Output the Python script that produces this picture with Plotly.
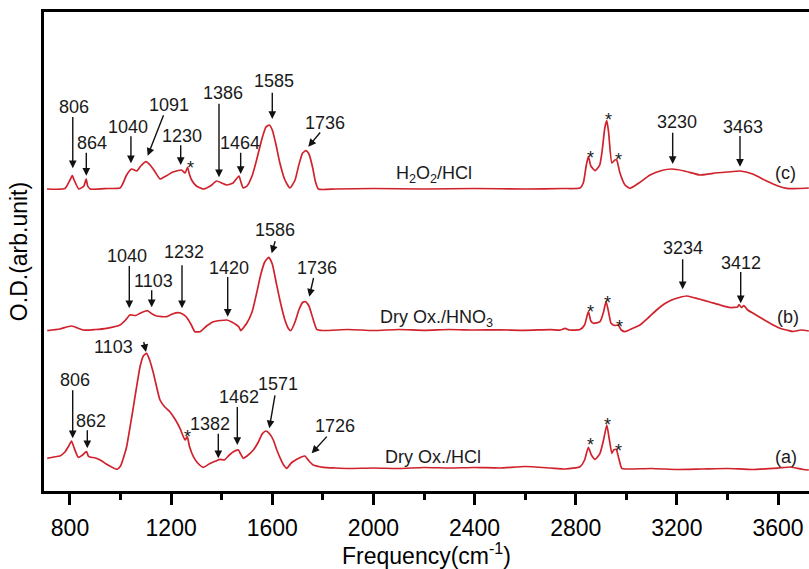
import plotly.graph_objects as go

# ---------------- data (wavenumber cm^-1, O.D. arb. units) ----------------
wn_c = [709, 780, 800, 809, 818, 835, 855, 864, 870, 880, 950, 998, 1010, 1024, 1044, 1064, 1080, 1100, 1120, 1136,
        1156, 1180, 1207, 1241, 1255, 1265, 1272, 1281, 1300, 1327, 1355, 1380, 1400, 1420, 1445, 1468, 1476, 1485, 1500, 1520,
        1538, 1560, 1575, 1588, 1600, 1615, 1630, 1650, 1670, 1690, 1705, 1720, 1733, 1745, 1760, 1770, 1782, 1850, 2000, 2200,
        2400, 2600, 2750, 2817, 2830, 2842, 2850, 2860, 2877, 2895, 2905, 2915, 2923, 2930, 2943, 2955, 2962, 2975, 2995, 3015,
        3050, 3094, 3140, 3180, 3230, 3291, 3343, 3400, 3450, 3500, 3555, 3600, 3634, 3680, 3722]
od_c = [3.02, 3.025, 3.11, 3.153, 3.10, 3.02, 3.05, 3.12, 3.05, 3.02,
        3.025, 3.03, 3.08, 3.16, 3.22, 3.20, 3.25, 3.293, 3.25, 3.193,
        3.12, 3.15, 3.19, 3.21, 3.18, 3.237, 3.17, 3.11, 3.05, 3.02,
        3.05, 3.10, 3.08, 3.06, 3.08, 3.15, 3.09, 3.03, 3.05, 3.15,
        3.31, 3.53, 3.64, 3.66, 3.61, 3.46, 3.28, 3.11, 3.03, 3.11,
        3.26, 3.38, 3.403, 3.37, 3.23, 3.10, 3.02, 3.02, 3.025, 3.02,
        3.025, 3.02, 3.025, 3.03, 3.08, 3.26, 3.343, 3.25, 3.203, 3.26,
        3.41, 3.63, 3.703, 3.59, 3.28, 3.31, 3.31, 3.18, 3.06, 3.027,
        3.08, 3.16, 3.205, 3.22, 3.20, 3.16, 3.177, 3.19, 3.20, 3.17,
        3.10, 3.05, 3.027, 3.025, 3.03]

wn_b = [710, 760, 806, 853, 900, 945, 998, 1020, 1037, 1060, 1077, 1106, 1125, 1143, 1182, 1205, 1228, 1245, 1261, 1280,
        1294, 1314, 1340, 1367, 1395, 1420, 1440, 1459, 1468, 1476, 1485, 1499, 1520, 1538, 1555, 1570, 1586, 1600, 1615, 1630,
        1650, 1665, 1673, 1690, 1705, 1720, 1732, 1745, 1760, 1776, 1800, 1900, 2000, 2100, 2200, 2300, 2400, 2500, 2600, 2700,
        2740, 2758, 2775, 2817, 2835, 2850, 2860, 2870, 2896, 2910, 2920, 2930, 2940, 2955, 2968, 2980, 2995, 3020, 3054, 3090,
        3120, 3150, 3173, 3210, 3239, 3265, 3291, 3330, 3371, 3410, 3440, 3446, 3455, 3465, 3480, 3502, 3540, 3581, 3610, 3634,
        3660, 3690, 3722]
od_b = [1.603, 1.62, 1.65, 1.61, 1.615, 1.627, 1.66, 1.71, 1.76, 1.755, 1.777, 1.803, 1.77, 1.75, 1.743, 1.77, 1.783, 1.77, 1.737, 1.66,
        1.593, 1.593, 1.65, 1.693, 1.705, 1.71, 1.69, 1.66, 1.64, 1.603, 1.63, 1.677, 1.79, 1.977, 2.17, 2.29, 2.337, 2.27, 2.09, 1.91,
        1.71, 1.62, 1.603, 1.69, 1.81, 1.885, 1.893, 1.85, 1.73, 1.617, 1.605, 1.615, 1.605, 1.615, 1.607, 1.615, 1.61, 1.612, 1.607, 1.614,
        1.61, 1.627, 1.61, 1.615, 1.66, 1.793, 1.70, 1.677, 1.693, 1.79, 1.893, 1.79, 1.677, 1.655, 1.66, 1.61, 1.593, 1.62, 1.66, 1.74,
        1.81, 1.87, 1.903, 1.935, 1.95, 1.935, 1.917, 1.89, 1.86, 1.835, 1.84, 1.865, 1.835, 1.855, 1.81, 1.777, 1.72, 1.66, 1.625, 1.61,
        1.595, 1.61, 1.60]

wn_a = [710, 735, 760, 780, 795, 806, 815, 833, 850, 862, 866, 872, 879, 900, 919, 950, 985, 1000, 1017, 1024,
        1050, 1077, 1090, 1103, 1115, 1130, 1156, 1175, 1195, 1215, 1235, 1255, 1264, 1272, 1288, 1305, 1327, 1350, 1380, 1393,
        1410, 1430, 1446, 1466, 1475, 1485, 1500, 1525, 1545, 1560, 1575, 1590, 1604, 1618, 1630, 1645, 1657, 1675, 1697, 1715,
        1729, 1745, 1762, 1802, 1850, 1900, 2000, 2100, 2200, 2300, 2400, 2500, 2600, 2700, 2760, 2817, 2835, 2850, 2862, 2877,
        2896, 2910, 2923, 2932, 2943, 2950, 2960, 2970, 2982, 3000, 3100, 3200, 3300, 3400, 3500, 3600, 3650, 3700, 3722]
od_a = [0.327, 0.34, 0.35, 0.39, 0.45, 0.50, 0.44, 0.337, 0.36, 0.39, 0.393, 0.35, 0.34, 0.33, 0.31, 0.26, 0.217, 0.25, 0.377, 0.443,
        0.83, 1.243, 1.35, 1.377, 1.31, 1.177, 0.91, 0.84, 0.793, 0.72, 0.627, 0.51, 0.543, 0.45, 0.343, 0.28, 0.237, 0.27, 0.303, 0.317,
        0.31, 0.36, 0.393, 0.41, 0.37, 0.327, 0.35, 0.41, 0.49, 0.57, 0.60, 0.57, 0.51, 0.41, 0.337, 0.26, 0.227, 0.28, 0.317, 0.34,
        0.35, 0.30, 0.26, 0.237, 0.23, 0.225, 0.23, 0.225, 0.235, 0.23, 0.235, 0.23, 0.245, 0.23, 0.22, 0.243, 0.31, 0.437, 0.36, 0.317,
        0.377, 0.51, 0.66, 0.53, 0.377, 0.41, 0.417, 0.33, 0.227, 0.22, 0.225, 0.215, 0.22, 0.225, 0.215, 0.23, 0.24, 0.215, 0.21]

# peak labels: text, label position (wn, od)
peak_text = ["806", "864", "1040", "1091", "1230", "1386", "1464", "1585", "1736", "3230", "3463",
             "1040", "1103", "1232", "1420", "1586", "1736", "3234", "3412",
             "1103", "806", "862", "1382", "1462", "1571", "1726"]
peak_tx = [814.6, 885.8, 1030.6, 1191.5, 1244, 1405, 1472.3, 1606.8, 1809.7, 3199.4, 3460.3,
           1024.2, 1129.4, 1252, 1430, 1612, 1778, 3222.9, 3452.5,
           971.2, 819.8, 881.9, 1352, 1468.4, 1623.8, 1848]
peak_ty = [3.837, 3.477, 3.637, 3.86, 3.55, 3.983, 3.477, 4.103, 3.683, 3.693, 3.643,
           2.35, 2.103, 2.393, 2.227, 2.61, 2.227, 2.433, 2.283,
           1.443, 1.11, 0.70, 0.67, 0.943, 1.067, 0.65]
# arrow heads (wn, od) and tail offsets (px)
arr_x = [811, 864.5, 1041, 1107.3, 1237.8, 1389.3, 1475, 1600, 1742.4, 3183.5, 3449.7,
         1034.5, 1123.1, 1243, 1423.7, 1597.7, 1746.4, 3222.9, 3452.5,
         1100.6, 810.7, 868.4, 1386.5, 1461.6, 1588.2, 1755.9]
arr_y = [3.227, 3.153, 3.277, 3.353, 3.26, 3.137, 3.17, 3.72, 3.443, 3.27, 3.243,
         1.827, 1.837, 1.827, 1.743, 2.377, 1.943, 2.017, 1.877,
         1.39, 0.527, 0.427, 0.327, 0.46, 0.627, 0.377]
arr_ax = [0, 0, 0, 16.6, 0, 0, 0, 0, 13.4, 0, 0,
          0, 0, 0, 0, 4, 4.7, 0, 0,
          -2.7, 0, 0, 0, 0, 6, 16.6]
arr_ay = [-53.3, -25, -29, -42.4, -21.7, -75.6, -23.3, -28.3, -16, -33.3, -32.7,
          -44.3, -19, -45, -41.7, -14, -20.7, -32, -33.3,
          -12, -50, -20, -26.6, -40, -35, -18.3]

star_x = [1274.6, 2856.5, 2928.9, 2968.4, 2856.5, 2925, 2975, 1265, 2856.5, 2925, 2968.4]
star_y = [3.277, 3.383, 3.76, 3.36, 1.837, 1.927, 1.687, 0.593, 0.51, 0.71, 0.45]

sample_text = ["H<sub>2</sub>O<sub>2</sub>/HCl", "Dry Ox./HNO<sub>3</sub>", "Dry Ox./HCl"]
sample_x = [2239.5, 2251.4, 2235.6]
sample_y = [3.17, 1.73, 0.343]
tag_text = ["(c)", "(b)", "(a)"]
tag_x = [3627.7, 3640.7, 3631.6]
tag_y = [3.177, 1.743, 0.343]

x_ticks = [800, 1200, 1600, 2000, 2400, 2800, 3200, 3600]
x_minor = [1000, 1400, 1800, 2200, 2600, 3000, 3400]

RED = "#d0222c"
FONT = "Liberation Sans, Arial, sans-serif"

fig = go.Figure()
for x, y in [(wn_a, od_a), (wn_b, od_b), (wn_c, od_c)]:
    fig.add_trace(go.Scatter(x=x, y=y, mode="lines",
                             line=dict(color=RED, width=1.7, shape="spline", smoothing=0.5),
                             hoverinfo="skip", showlegend=False))

ann = []
for t, x, y in zip(peak_text, peak_tx, peak_ty):
    ann.append(dict(x=x, y=y, text=t, showarrow=False, font=dict(size=18, color="#1a1a1a", family=FONT)))
for x, y, ax, ay in zip(arr_x, arr_y, arr_ax, arr_ay):
    ann.append(dict(x=x, y=y, ax=ax, ay=ay, text=" ", showarrow=True, arrowhead=2, arrowsize=1.1,
                    arrowwidth=1.4, arrowcolor="#111", font=dict(size=1)))
for x, y in zip(star_x, star_y):
    ann.append(dict(x=x, y=y, text="*", showarrow=False, yshift=-5,
                    font=dict(size=18, color="#1a1a1a", family=FONT)))
for t, x, y in zip(sample_text, sample_x, sample_y):
    ann.append(dict(x=x, y=y, text=t, showarrow=False, font=dict(size=18, color="#1a1a1a", family=FONT)))
for t, x, y in zip(tag_text, tag_x, tag_y):
    ann.append(dict(x=x, y=y, text=t, showarrow=False, font=dict(size=18, color="#1a1a1a", family=FONT)))

fig.update_layout(
    width=809, height=569,
    margin=dict(l=44, r=0, t=12, b=78),
    paper_bgcolor="white", plot_bgcolor="white",
    font=dict(family=FONT, color="black"),
    annotations=ann,
    xaxis=dict(range=[697.2, 3722.6], tickvals=x_ticks, ticks="outside", ticklen=11, tickwidth=2.5,
               tickcolor="black", showline=True, linewidth=2.5, linecolor="black", mirror=True,
               showgrid=False, zeroline=False, tickfont=dict(size=23, family=FONT), ticklabelstandoff=4,
               minor=dict(tickvals=x_minor, ticks="outside", ticklen=6, tickwidth=2.5, tickcolor="black"),
               title=dict(text="Frequency(cm<sup>-1</sup>)", font=dict(size=23, family=FONT), standoff=2)),
    yaxis=dict(range=[0, 4.79], showticklabels=False, ticks="", showline=True, linewidth=2.5,
               linecolor="black", showgrid=False, zeroline=False,
               title=dict(text="O.D.(arb.unit)", font=dict(size=23, family=FONT), standoff=8)),
)

fig.write_html("out.html")
